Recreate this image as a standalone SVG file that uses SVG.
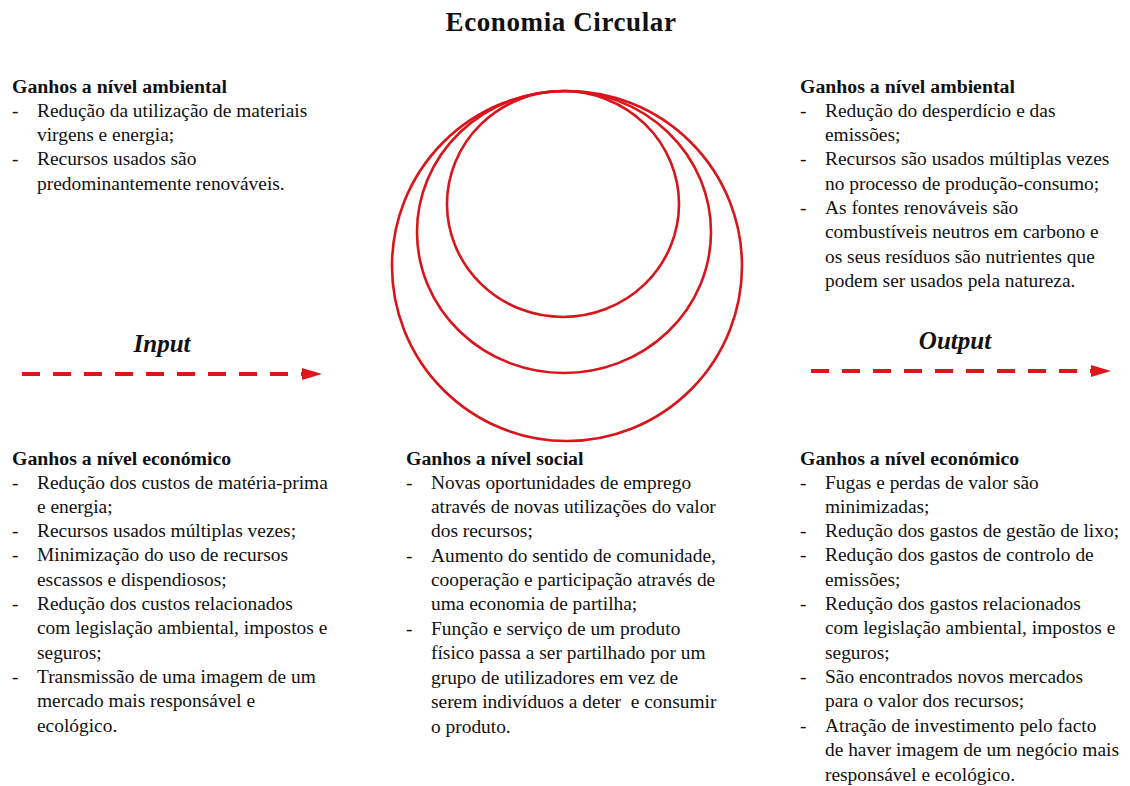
<svg xmlns="http://www.w3.org/2000/svg" width="1130" height="786" viewBox="0 0 1130 786">
<style>
text{font-family:"Liberation Serif","Times New Roman",serif;fill:#111}
.t{font-size:19.4px}
.h{font-size:19.8px;font-weight:bold}
.title{font-size:27px;font-weight:bold;letter-spacing:0.6px}
.io{font-size:25px;font-weight:bold;font-style:italic}
.c{fill:none;stroke:#d9141b;stroke-width:2.6}
.arr{stroke:#e0141b;stroke-width:4;stroke-dasharray:18 13;fill:none}
</style>
<defs>
<marker id="ah" markerWidth="20" markerHeight="14" refX="0" refY="7" orient="auto" markerUnits="userSpaceOnUse">
<path d="M0,1 L20,7 L0,13 Z" fill="#e0141b"/>
</marker>
</defs>
<rect width="1130" height="786" fill="#fff"/>
<text class="title" x="561" y="31" text-anchor="middle">Economia Circular</text>

<g id="circles">
<ellipse class="c" cx="567" cy="266" rx="175" ry="175"/>
<ellipse class="c" cx="564" cy="232" rx="147" ry="141"/>
<ellipse class="c" cx="563" cy="204" rx="116" ry="113"/>
</g>

<g id="connectors">
<line class="arr" x1="22" y1="374" x2="302" y2="374" marker-end="url(#ah)"/>
<line class="arr" x1="811" y1="371" x2="1091" y2="371" marker-end="url(#ah)"/>
</g>

<g id="input-label"><text class="io" x="162" y="352" text-anchor="middle">Input</text></g>
<g id="output-label"><text class="io" x="955" y="349" text-anchor="middle">Output</text></g>

<g id="input-ambiental">
<text class="h" x="12" y="93">Ganhos a nível ambiental</text>
<text class="t">
<tspan x="12" y="117">-</tspan><tspan x="37" y="117">Redução da utilização de materiais</tspan>
<tspan x="37" y="141">virgens e energia;</tspan>
<tspan x="12" y="165">-</tspan><tspan x="37" y="165">Recursos usados são</tspan>
<tspan x="37" y="190">predominantemente renováveis.</tspan>
</text>
</g>

<g id="output-ambiental">
<text class="h" x="800" y="93">Ganhos a nível ambiental</text>
<text class="t">
<tspan x="800" y="117">-</tspan><tspan x="825" y="117">Redução do desperdício e das</tspan>
<tspan x="825" y="141">emissões;</tspan>
<tspan x="800" y="165">-</tspan><tspan x="825" y="165">Recursos são usados múltiplas vezes</tspan>
<tspan x="825" y="190">no processo de produção-consumo;</tspan>
<tspan x="800" y="214">-</tspan><tspan x="825" y="214">As fontes renováveis são</tspan>
<tspan x="825" y="238">combustíveis neutros em carbono e</tspan>
<tspan x="825" y="263">os seus resíduos são nutrientes que</tspan>
<tspan x="825" y="287">podem ser usados pela natureza.</tspan>
</text>
</g>

<g id="input-economico">
<text class="h" x="12" y="465">Ganhos a nível económico</text>
<text class="t">
<tspan x="12" y="489">-</tspan><tspan x="37" y="489">Redução dos custos de matéria-prima</tspan>
<tspan x="37" y="513">e energia;</tspan>
<tspan x="12" y="537">-</tspan><tspan x="37" y="537">Recursos usados múltiplas vezes;</tspan>
<tspan x="12" y="561">-</tspan><tspan x="37" y="561">Minimização do uso de recursos</tspan>
<tspan x="37" y="586">escassos e dispendiosos;</tspan>
<tspan x="12" y="610">-</tspan><tspan x="37" y="610">Redução dos custos relacionados</tspan>
<tspan x="37" y="634">com legislação ambiental, impostos e</tspan>
<tspan x="37" y="659">seguros;</tspan>
<tspan x="12" y="683">-</tspan><tspan x="37" y="683">Transmissão de uma imagem de um</tspan>
<tspan x="37" y="707">mercado mais responsável e</tspan>
<tspan x="37" y="732">ecológico.</tspan>
</text>
</g>

<g id="social">
<text class="h" x="406" y="465">Ganhos a nível social</text>
<text class="t">
<tspan x="406" y="489">-</tspan><tspan x="431" y="489">Novas oportunidades de emprego</tspan>
<tspan x="431" y="513">através de novas utilizações do valor</tspan>
<tspan x="431" y="537">dos recursos;</tspan>
<tspan x="406" y="562">-</tspan><tspan x="431" y="562">Aumento do sentido de comunidade,</tspan>
<tspan x="431" y="586">cooperação e participação através de</tspan>
<tspan x="431" y="610">uma economia de partilha;</tspan>
<tspan x="406" y="635">-</tspan><tspan x="431" y="635">Função e serviço de um produto</tspan>
<tspan x="431" y="659">físico passa a ser partilhado por um</tspan>
<tspan x="431" y="684">grupo de utilizadores em vez de</tspan>
<tspan x="431" y="708" xml:space="preserve">serem indivíduos a deter  e consumir</tspan>
<tspan x="431" y="733">o produto.</tspan>
</text>
</g>

<g id="output-economico">
<text class="h" x="800" y="465">Ganhos a nível económico</text>
<text class="t">
<tspan x="800" y="489">-</tspan><tspan x="825" y="489">Fugas e perdas de valor são</tspan>
<tspan x="825" y="513">minimizadas;</tspan>
<tspan x="800" y="537">-</tspan><tspan x="825" y="537">Redução dos gastos de gestão de lixo;</tspan>
<tspan x="800" y="561">-</tspan><tspan x="825" y="561">Redução dos gastos de controlo de</tspan>
<tspan x="825" y="586">emissões;</tspan>
<tspan x="800" y="610">-</tspan><tspan x="825" y="610">Redução dos gastos relacionados</tspan>
<tspan x="825" y="634">com legislação ambiental, impostos e</tspan>
<tspan x="825" y="659">seguros;</tspan>
<tspan x="800" y="683">-</tspan><tspan x="825" y="683">São encontrados novos mercados</tspan>
<tspan x="825" y="707">para o valor dos recursos;</tspan>
<tspan x="800" y="732">-</tspan><tspan x="825" y="732">Atração de investimento pelo facto</tspan>
<tspan x="825" y="756">de haver imagem de um negócio mais</tspan>
<tspan x="825" y="781">responsável e ecológico.</tspan>
</text>
</g>
</svg>
